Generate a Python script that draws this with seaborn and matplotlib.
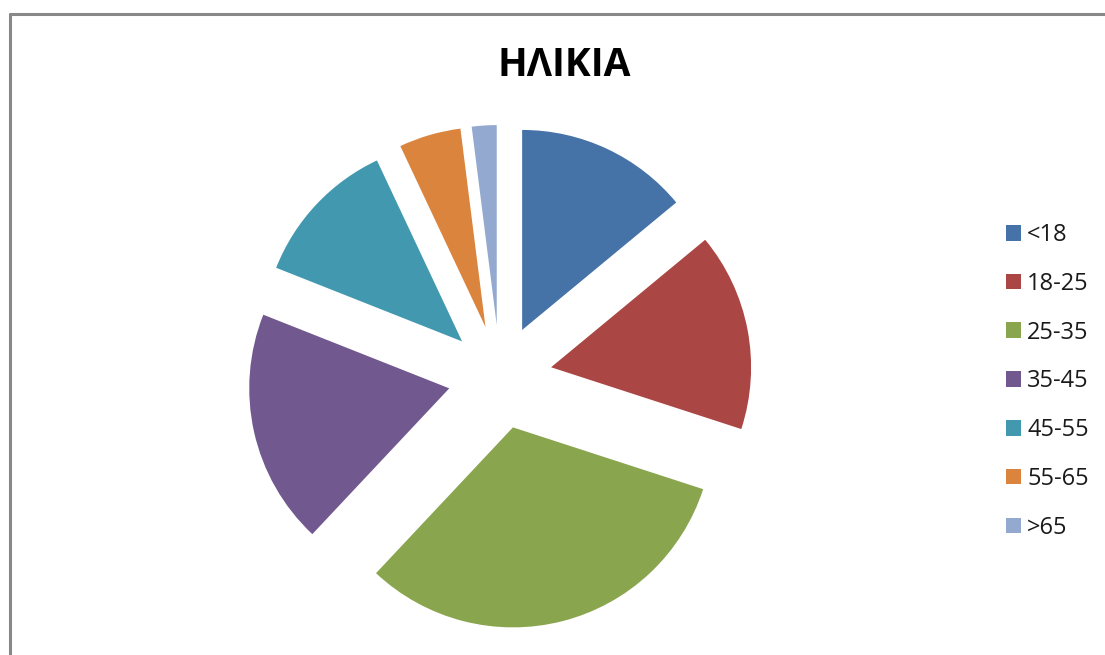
import matplotlib
matplotlib.use("Agg")
import matplotlib.pyplot as plt
from matplotlib.lines import Line2D
import seaborn as sns

# Age groups and their shares (%)
categories = ["<18", "18-25", "25-35", "35-45", "45-55", "55-65", ">65"]
shares = [14, 16, 32, 19, 12, 5, 2]
title = "ΗΛΙΚΙΑ"

sns.set_theme(style="white")
plt.rcParams["font.family"] = ["Open Sans", "DejaVu Sans"]

palette = sns.color_palette(["#4572A7", "#AA4643", "#89A54E", "#71588F",
                             "#4198AF", "#DB843D", "#93A9CF"])

W, H, DPI = 1105, 655, 100
fig = plt.figure(figsize=(W / DPI, H / DPI), dpi=DPI)
fig.patch.set_facecolor("white")

# Pie axes: centre at (500, 377) px, radius 200 px
cx, cy, r = 500, 377, 200
lim = 1.3
size = 2 * lim * r
ax = fig.add_axes([(cx - size / 2) / W, (H - cy - size / 2) / H, size / W, size / H])
wedges, _ = ax.pie(shares, colors=palette, startangle=90, counterclock=False,
                   explode=[0.26] * len(shares), radius=1,
                   wedgeprops=dict(linewidth=0))
ax.set_xlim(-lim, lim)
ax.set_ylim(-lim, lim)
ax.set_aspect("equal")
ax.axis("off")

fig.text(564 / W, 1 - 65 / H, title, ha="center", va="center",
         fontsize=28, fontweight="bold", color="black")

leg = fig.legend(wedges, categories, loc="upper left",
                 bbox_to_anchor=(1006 / W, 1 - 223 / H),
                 frameon=False, fontsize=17, handlelength=0.64, handleheight=0.64,
                 handletextpad=0.26, labelspacing=1.05, borderpad=0, borderaxespad=0)
for t in leg.get_texts():
    t.set_color("#1a1a1a")

# Chart-area frame (top and left edges visible)
fig.add_artist(Line2D([9.5 / W, 1.0], [1 - 13.5 / H, 1 - 13.5 / H],
                      transform=fig.transFigure, color="#888888", linewidth=2.2))
fig.add_artist(Line2D([9.5 / W, 9.5 / W], [0.0, 1 - 13.5 / H],
                      transform=fig.transFigure, color="#888888", linewidth=2.2))

fig.savefig("out.png", dpi=DPI, facecolor="white")
